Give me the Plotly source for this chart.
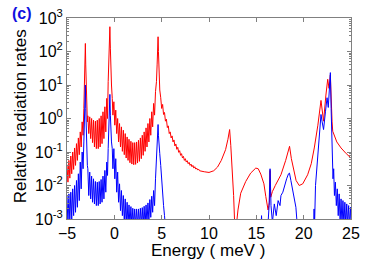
import plotly.graph_objects as go

# ---------------- data (log10 of relative radiation rate) ----------------
# red curve
red_x_a = [-5.0, -4.9, -4.8, -4.7, -4.6, -4.5, -4.4, -4.3, -4.2, -4.1, -4.0, -3.9, -3.8, -3.7, -3.6, -3.5, -3.4, -3.3,
           -3.22, -3.15, -3.10, -3.06, -3.02, -2.97, -2.90, -2.85]
red_y_a = [-1.38, -1.90, -1.25, -1.78, -1.12, -1.65, -1.00, -1.52, -0.88, -1.40, -0.75, -1.25, -0.58, -1.08, -0.40, -0.85, -0.10, -0.50,
           0.30, 1.00, 1.70, 2.24, 1.60, 0.90, 0.40, -0.10]
red_x_b = [-2.8, -2.7, -2.6, -2.5, -2.4, -2.3, -2.2, -2.1, -2.0, -1.9, -1.8, -1.7, -1.6, -1.5, -1.4, -1.3, -1.2, -1.1, -1.0, -0.9, -0.8, -0.72,
           -0.65, -0.58, -0.52, -0.47, -0.42, -0.37, -0.30, -0.22]
red_y_b = [0.08, -0.45, 0.05, -0.60, 0.00, -0.72, -0.05, -0.85, -0.08, -0.90, -0.05, -0.90, 0.00, -0.85, 0.08, -0.75, 0.20, -0.60, 0.35, -0.40, 0.60, 0.00,
           1.10, 1.60, 2.20, 2.74, 2.10, 1.40, 1.00, 0.60]
red_x_c = [-0.15, -0.05, 0.05, 0.15, 0.25, 0.35, 0.45, 0.55, 0.65, 0.75, 0.85, 0.95, 1.05, 1.15, 1.25, 1.35, 1.45, 1.55, 1.65, 1.75,
           1.85, 1.95, 2.05, 2.15, 2.25, 2.35, 2.45, 2.55, 2.65, 2.75, 2.85, 2.95, 3.05, 3.15, 3.25, 3.35, 3.45, 3.55, 3.65, 3.75,
           3.85, 3.95, 4.05, 4.15, 4.25, 4.35,
           4.45, 4.52, 4.58, 4.62, 4.66, 4.72, 4.80]
red_y_c = [0.10, 0.50, -0.20, 0.25, -0.45, 0.00, -0.70, -0.15, -0.85, -0.25, -0.98, -0.35, -1.08, -0.45, -1.18, -0.55, -1.25, -0.62, -1.32, -0.68,
           -1.36, -0.72, -1.38, -0.72, -1.37, -0.70, -1.33, -0.65, -1.28, -0.58, -1.20, -0.50, -1.10, -0.40, -0.98, -0.28, -0.85, -0.15, -0.70, 0.00,
           -0.50, 0.20, -0.25, 0.45, 0.10, 0.80,
           1.10, 1.60, 2.10, 2.44, 2.00, 1.30, 0.85]
red_x_d = [4.9, 5.0, 5.1, 5.2, 5.3, 5.4, 5.5, 5.6, 5.7, 5.8, 5.9, 6.0, 6.1, 6.2, 6.3, 6.4, 6.5, 6.6, 6.7, 6.8, 6.9,
           7.0, 7.1, 7.2, 7.3, 7.4, 7.5, 7.6, 7.7, 7.8, 7.9, 8.0, 8.1, 8.2, 8.3, 8.4, 8.5, 8.6, 8.7, 8.8, 8.9, 9.0]
red_y_d = [0.62, 0.30, 0.42, 0.12, 0.18, -0.08, -0.02, -0.27, -0.22, -0.45, -0.40, -0.58, -0.52, -0.70, -0.64, -0.82, -0.76, -0.92, -0.86, -1.01, -0.96,
           -1.10, -1.05, -1.18, -1.13, -1.25, -1.20, -1.30, -1.26, -1.35, -1.31, -1.40, -1.36, -1.44, -1.40, -1.48, -1.44, -1.51, -1.48, -1.54, -1.51, -1.56]
red_x_e = [9.5, 10.0, 10.5, 10.9, 11.3, 11.75, 12.0, 12.18, 12.3, 12.46, 12.6, 12.72, 12.85, 13.06, 13.35, 13.88, 14.4, 14.94, 15.2, 15.47,
           15.8, 16.0, 16.24, 16.38, 16.45, 16.52, 16.7, 17.0, 17.6, 18.1, 18.4, 18.51, 18.7, 19.0, 19.2, 19.53, 19.9, 20.42, 20.8, 21.12,
           21.5, 21.83, 22.1, 22.35, 22.54, 22.68, 22.82, 23.0, 23.07, 23.5, 23.95, 24.5, 25.0]
red_y_e = [-1.59, -1.61, -1.56, -1.45, -1.25, -0.93, -0.62, -0.33, -0.80, -1.50, -2.30, -3.20, -3.30, -2.73, -2.23, -1.88, -1.63, -1.48, -1.50, -1.66,
           -1.95, -2.33, -2.73, -2.50, -1.55, -2.35, -2.18, -2.00, -1.68, -1.25, -0.95, -0.83, -1.20, -1.65, -1.85, -2.00, -1.95, -1.68, -1.35, -0.88,
           -0.20, 0.54, -0.08, 0.70, 1.17, 0.90, 1.30, -0.10, -0.38, -0.70, -0.88, -1.05, -1.18]

# blue curve
blue_x_a = [-5.0, -4.9, -4.8, -4.7, -4.6, -4.5, -4.4, -4.3, -4.2, -4.1, -4.0, -3.9, -3.8, -3.7, -3.6, -3.5, -3.4, -3.3,
            -3.22, -3.15, -3.10, -3.06, -3.02, -2.97, -2.90, -2.85]
blue_y_a = [-2.30, -3.20, -2.25, -3.10, -2.20, -3.00, -2.10, -2.90, -2.00, -2.80, -1.85, -2.65, -1.65, -2.45, -1.30, -2.10, -1.00, -1.50,
            -0.70, -0.10, 0.50, 1.00, 0.30, -0.40, -1.00, -1.40]
blue_x_b = [-2.8, -2.7, -2.6, -2.5, -2.4, -2.3, -2.2, -2.1, -2.0, -1.9, -1.8, -1.7, -1.6, -1.5, -1.4, -1.3, -1.2, -1.1, -1.0, -0.9, -0.8, -0.72,
            -0.65, -0.58, -0.52, -0.47, -0.42, -0.37, -0.30, -0.22]
blue_y_b = [-1.50, -2.30, -1.60, -2.40, -1.72, -2.50, -1.80, -2.55, -1.88, -2.60, -1.90, -2.60, -1.88, -2.55, -1.82, -2.50, -1.72, -2.40, -1.55, -2.20, -1.30, -1.70,
            -0.90, -0.20, 0.30, 0.72, 0.10, -0.40, -0.70, -0.90]
blue_x_c = [-0.15, -0.05, 0.05, 0.15, 0.25, 0.35, 0.45, 0.55, 0.65, 0.75, 0.85, 0.95, 1.05, 1.15, 1.25, 1.35, 1.45, 1.55, 1.65, 1.75,
            1.85, 1.95, 2.05, 2.15, 2.25, 2.35, 2.45, 2.55, 2.65, 2.75, 2.85, 2.95, 3.05, 3.15, 3.25, 3.35, 3.45, 3.55, 3.65, 3.75,
            3.85, 3.95, 4.05, 4.15, 4.25, 4.35,
            4.45, 4.52, 4.58, 4.62, 4.66, 4.72, 4.80, 4.90, 5.00, 5.10, 5.20, 5.30, 5.40]
blue_y_c = [-1.50, -0.90, -1.80, -1.20, -2.20, -1.60, -2.50, -1.95, -2.75, -2.15, -2.90, -2.30, -3.10, -2.40, -3.20, -2.50, -3.20, -2.58, -3.20, -2.63,
            -3.20, -2.68, -3.20, -2.70, -3.20, -2.70, -3.20, -2.70, -3.20, -2.68, -3.20, -2.66, -3.20, -2.62, -3.20, -2.58, -3.15, -2.52, -3.05, -2.42,
            -2.95, -2.32, -2.80, -2.15, -2.60, -1.80,
            -1.30, -0.80, -0.40, -0.18, -0.50, -0.85, -1.05, -1.40, -1.90, -2.30, -2.60, -2.90, -3.30]
blue_x_d = [5.6, 15.4, 15.55, 15.62, 15.7, 16.2, 16.35, 16.45, 16.55, 16.7, 16.9, 17.1, 17.3, 17.5, 17.6, 17.8, 18.0, 18.2, 18.4, 18.5,
            18.65, 18.8, 19.0, 19.18, 19.3, 19.4, 21.0, 21.1, 21.15, 21.25, 21.47, 21.65, 21.83, 21.95, 22.1, 22.3, 22.47, 22.6, 22.72, 22.82,
            22.9, 23.0, 23.1, 23.17,
            23.25, 23.35, 23.45, 23.55, 23.65, 23.75, 23.85, 23.95, 24.05, 24.15, 24.25, 24.35, 24.45, 24.55, 24.65, 24.75, 24.85, 24.95, 25.0]
blue_y_d = [-4.0, -4.0, -2.90, -3.50, -4.0, -3.30, -2.60, -1.50, -2.60, -3.10, -2.55, -2.90, -2.45, -2.60, -2.30, -2.20, -1.95, -1.80, -1.65, -1.63,
            -1.85, -2.05, -2.35, -2.65, -3.10, -4.0, -4.0, -2.70, -3.20, -2.00, -1.08, -0.50, 0.12, -0.10, -0.33, 0.20, 0.62, 0.33, 0.90, 1.37,
            0.30, -1.20, -1.80, -1.50,
            -2.30, -1.90, -2.60, -2.10, -2.90, -2.25, -3.10, -2.40, -3.20, -2.45, -3.20, -2.50, -3.20, -2.55, -3.20, -2.60, -3.20, -2.65, -3.00]

x_ticks = [-5, 0, 5, 10, 15, 20, 25]
y_tickvals = [1e-3, 1e-2, 1e-1, 1e0, 1e1, 1e2, 1e3]
y_ticktext = ["10<sup>-3</sup>", "10<sup>-2</sup>", "10<sup>-1</sup>", "10<sup>0</sup>",
              "10<sup>1</sup>", "10<sup>2</sup>", "10<sup>3</sup>"]

red_x = red_x_a + red_x_b + red_x_c + red_x_d + red_x_e
red_log = red_y_a + red_y_b + red_y_c + red_y_d + red_y_e
blue_x = blue_x_a + blue_x_b + blue_x_c + blue_x_d
blue_log = blue_y_a + blue_y_b + blue_y_c + blue_y_d

fig = go.Figure()
fig.add_trace(go.Scatter(x=red_x, y=[10 ** v for v in red_log], mode="lines",
                         line=dict(color="#ff0000", width=1), showlegend=False))
fig.add_trace(go.Scatter(x=blue_x, y=[10 ** v for v in blue_log], mode="lines",
                         line=dict(color="#0000ff", width=1), showlegend=False))

axis_col = "#808080"
fig.update_layout(
    width=374, height=262,
    margin=dict(l=67, r=23, t=18, b=43, autoexpand=False),
    paper_bgcolor="white", plot_bgcolor="white",
    font=dict(family="Liberation Sans, Arial, sans-serif", size=16, color="black"),
    showlegend=False,
)
fig.update_xaxes(
    range=[-5, 25], tickmode="array", tickvals=x_ticks, automargin=False,
    ticks="inside", ticklen=4, tickcolor=axis_col,
    showline=True, linecolor=axis_col, linewidth=1, mirror="ticks",
    showgrid=False, zeroline=False,
    tickfont=dict(size=16),
)
fig.update_yaxes(
    type="log", range=[-3, 3], tickmode="array", tickvals=y_tickvals, ticktext=y_ticktext,
    automargin=False,
    ticks="inside", ticklen=4, tickcolor=axis_col,
    showline=True, linecolor=axis_col, linewidth=1, mirror="ticks",
    showgrid=False, zeroline=False,
    minor=dict(dtick="D1", ticks="inside", ticklen=2, tickcolor=axis_col, showgrid=False),
    tickfont=dict(size=16),
)
fig.add_annotation(text="Energy ( meV )", xref="paper", yref="paper", x=0.497, y=-0.155,
                   xanchor="center", yanchor="middle", showarrow=False,
                   font=dict(size=17, color="black"))
fig.add_annotation(text="Relative radiation rates", xref="paper", yref="paper", x=-0.165, y=0.512,
                   xanchor="center", yanchor="middle", showarrow=False, textangle=-90,
                   font=dict(size=17, color="black"))
fig.add_annotation(text="<b>(c)</b>", xref="paper", yref="paper", x=-0.158, y=1.02,
                   xanchor="center", yanchor="middle", showarrow=False,
                   font=dict(size=16, color="#1010e0"))

fig.write_html("out.html", config={"displayModeBar": False},
               post_script="document.body.style.margin='0px';")
